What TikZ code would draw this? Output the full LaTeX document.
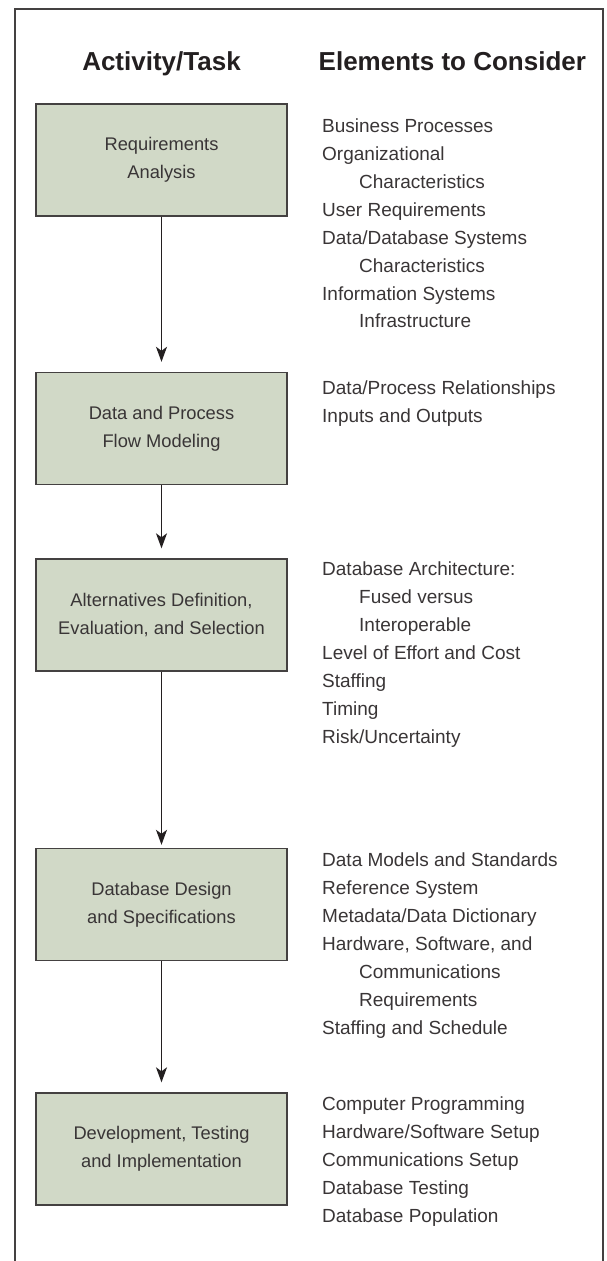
\documentclass[tikz,border=0pt]{standalone}
\usepackage{fontspec}
\setmainfont{Liberation Sans}
\usetikzlibrary{arrows.meta}
\definecolor{boxfill}{HTML}{D1D9C7}
\definecolor{ink}{HTML}{231F20}
\begin{document}
\begin{tikzpicture}[x=1pt,y=-1pt,
  taskbox/.style={draw=ink!85, line width=1.4pt, fill=boxfill, minimum width=251pt, minimum height=112pt, inner sep=0pt, font=\fontsize{18.3}{28}\selectfont, align=center, text=ink!90},
  elem/.style={anchor=base west, inner sep=0pt, font=\fontsize{19}{28}\selectfont, text=ink!90},
  head/.style={inner sep=0pt, font=\fontsize{26}{30}\selectfont\bfseries, text=ink},
  flow/.style={-{Stealth[length=15pt,width=11pt,inset=4pt]}, line width=1.2pt, draw=ink, shorten >=10pt}]
\useasboundingbox (0,0) rectangle (606,1261);
\draw[line width=1.2pt, draw=ink!85] (15,9) rectangle (603,1268);

\node[head, anchor=base] (h1) at (161.5,70) {Activity/Task};
\node[head, anchor=base west] (h2) at (318.5,70) {Elements to Consider};

\node[taskbox] (b1) at (161.5,160) {Requirements\\Analysis};
\node[taskbox] (b2) at (161.5,428.5) {Data and Process\\Flow Modeling};
\node[taskbox] (b3) at (161.5,615) {Alternatives Definition,\\Evaluation, and Selection};
\node[taskbox] (b4) at (161.5,904.5) {Database Design\\and Specifications};
\node[taskbox] (b5) at (161.5,1149) {Development, Testing\\and Implementation};

\draw[flow] (b1) -- (b2);
\draw[flow] (b2) -- (b3);
\draw[flow, shorten >=3pt] (b3) -- (b4);
\draw[flow] (b4) -- (b5);

\foreach \y/\x/\t [count=\i] in {
  132/322/{Business Processes},
  160/322/{Organizational},
  188/359/{Characteristics},
  216/322/{User Requirements},
  244/322/{Data/Database Systems},
  272/359/{Characteristics},
  300/322/{Information Systems},
  327/359/{Infrastructure},
  394/322/{Data/Process Relationships},
  422/322/{Inputs and Outputs},
  575/322/{Database Architecture:},
  603/359/{Fused versus},
  631/359/{Interoperable},
  659/322/{Level of Effort and Cost},
  687/322/{Staffing},
  715/322/{Timing},
  743/322/{Risk/Uncertainty},
  866.5/322/{Data Models and Standards},
  894.5/322/{Reference System},
  922.5/322/{Metadata/Data Dictionary},
  950.5/322/{Hardware, Software, and},
  978.5/359/{Communications},
  1006.5/359/{Requirements},
  1034.5/322/{Staffing and Schedule},
  1110/322/{Computer Programming},
  1138/322/{Hardware/Software Setup},
  1166/322/{Communications Setup},
  1194/322/{Database Testing},
  1222/322/{Database Population}}
  \node[elem] (e\i) at (\x,\y) {\t};
\end{tikzpicture}
\end{document}
